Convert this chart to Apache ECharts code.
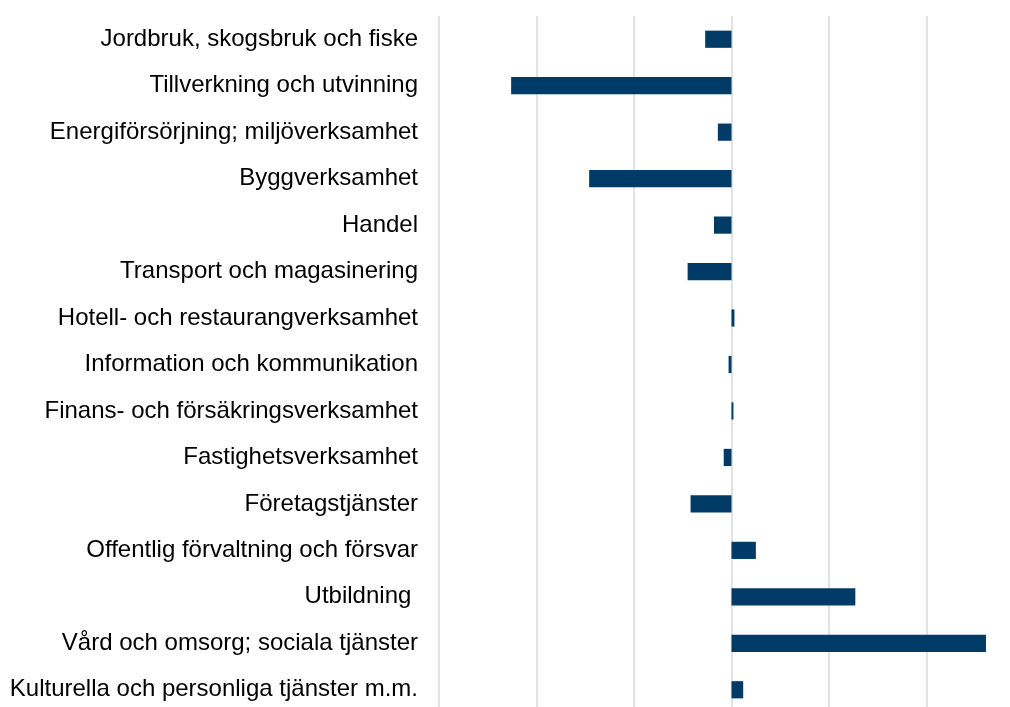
<!DOCTYPE html>
<html><head><meta charset="utf-8">
<script src="https://cdn.jsdelivr.net/npm/echarts@6/dist/echarts.min.js"></script>
<style>html,body{margin:0;padding:0;background:#fff;overflow:hidden;width:1010px;height:707px}#c{width:1040px;height:730px}</style>
</head><body><div id="c"></div>
<script>
const categories = [
  "Jordbruk, skogsbruk och fiske",
  "Tillverkning och utvinning",
  "Energiförsörjning; miljöverksamhet",
  "Byggverksamhet",
  "Handel",
  "Transport och magasinering",
  "Hotell- och restaurangverksamhet",
  "Information och kommunikation",
  "Finans- och försäkringsverksamhet",
  "Fastighetsverksamhet",
  "Företagstjänster",
  "Offentlig förvaltning och försvar",
  "Utbildning ",
  "Vård och omsorg; sociala tjänster",
  "Kulturella och personliga tjänster m.m."
];
const values = [-0.27, -2.26, -0.14, -1.46, -0.18, -0.45, 0.03, -0.03, 0.02, -0.08, -0.42, 0.25, 1.27, 2.61, 0.12];

const chart = echarts.init(document.getElementById('c'));
chart.setOption({
  animation: false,
  grid: { left: 439, top: 16, width: 585, height: 697, containLabel: false },
  xAxis: {
    type: 'value', min: -3, max: 3, interval: 1,
    axisLabel: { show: false }, axisLine: { show: false }, axisTick: { show: false },
    splitLine: { show: true, lineStyle: { color: '#d9d9d9', width: 1.5 } }
  },
  yAxis: {
    type: 'category', data: categories, inverse: true,
    axisLine: { show: false }, axisTick: { show: false },
    axisLabel: { color: '#000', fontFamily: 'Liberation Sans, Arial, sans-serif', fontSize: 24, margin: 21 }
  },
  series: [{
    type: 'bar', data: values, barWidth: '37%',
    itemStyle: { color: '#003b68' }
  }]
});
</script></body></html>
